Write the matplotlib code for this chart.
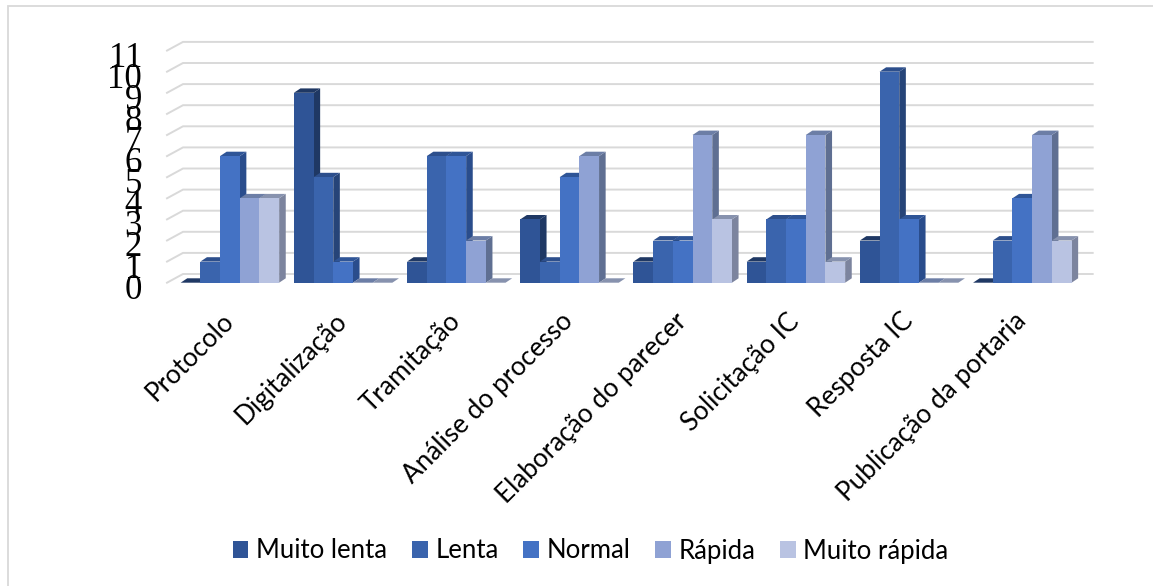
import matplotlib
matplotlib.use("Agg")
import matplotlib.pyplot as plt
from matplotlib.lines import Line2D
from matplotlib.patches import Patch, Polygon
from matplotlib.transforms import ScaledTranslation

# Survey answers per process stage
categories = ["Protocolo", "Digitalização", "Tramitação", "Análise do processo",
              "Elaboração do parecer", "Solicitação IC", "Resposta IC",
              "Publicação da portaria"]
series_names = ["Muito lenta", "Lenta", "Normal", "Rápida", "Muito rápida"]
muito_lenta = [0, 9, 1, 3, 1, 1, 2, 0]
lenta = [1, 5, 6, 1, 2, 3, 10, 2]
normal = [6, 1, 6, 5, 2, 3, 3, 4]
rapida = [4, 0, 2, 6, 7, 7, 0, 7]
muito_rapida = [4, 0, 0, 0, 3, 1, 0, 2]
y_ticks = list(range(12))

front_colors = ["#2F5496", "#3A64AD", "#4472C4", "#8FA2D4", "#B9C3E2"]
side_colors = ["#1F3864", "#264478", "#2A4D8C", "#5F6F92", "#7C849E"]
top_colors = ["#1F3864", "#2D4F8C", "#2F5597", "#6C7EA6", "#8792AE"]
grid_color = "#D9D9D9"

W, H = 1153, 586
fig = plt.figure(figsize=(W / 100, H / 100), dpi=100, facecolor="white")

# Plot box in pixels; the 3D look comes from sheared faces on flat axes
px_left, px_right, px_base, px_top = 167.0, 1092.7, 282.7, 41.7
ax = fig.add_axes([px_left / W, 1 - px_base / H,
                   (px_right - px_left) / W, (px_base - px_top) / H])
px_per_unit = 21.1
px_per_group = 113.2
center0 = 229.9
ax.set_xlim((px_left - center0) / px_per_group, (px_right - center0) / px_per_group)
ax.set_ylim(0, (px_base - px_top) / px_per_unit)
for s in ax.spines.values():
    s.set_visible(False)
ax.patch.set_visible(False)

bar_w = 19.7 / px_per_group
bar_dx = 6.6 / px_per_group
bar_dy = 4.4 / px_per_unit
wall_dx = 16.0 / px_per_group
wall_dy = 8.7 / px_per_unit
x0, x1 = ax.get_xlim()

# Floor-to-wall grid lines
for v in y_ticks:
    ax.add_line(Line2D([x0, x0 + wall_dx, x1], [v, v + wall_dy, v + wall_dy],
                       color=grid_color, lw=1.4, zorder=1, clip_on=False,
                       solid_joinstyle="miter"))

all_series = [muito_lenta, lenta, normal, rapida, muito_rapida]
for si, values in enumerate(all_series):
    for gi, v in enumerate(values):
        left = gi + (si - 2.5) * bar_w
        right = left + bar_w
        z = 3 + si
        # right side face
        if v > 0:
            ax.add_patch(Polygon([(right, 0), (right + bar_dx, bar_dy),
                                  (right + bar_dx, v + bar_dy), (right, v)],
                                 facecolor=side_colors[si], edgecolor="none", zorder=z))
        # top face
        ax.add_patch(Polygon([(left, v), (left + bar_dx, v + bar_dy),
                              (right + bar_dx, v + bar_dy), (right, v)],
                             facecolor=top_colors[si], edgecolor="none", zorder=z))
        # front face
        if v > 0:
            ax.bar(left + bar_w / 2, v, width=bar_w, color=front_colors[si],
                   linewidth=0, zorder=z + 0.5)

ax.set_yticks(y_ticks)
ax.set_yticklabels([str(t) for t in y_ticks], family="Liberation Serif", fontsize=25,
                   color="#000000")
ax.set_xticks(range(len(categories)))
ax.set_xticklabels(categories, rotation=45, ha="right", va="center", rotation_mode="anchor",
                   family="Lato", fontsize=18.8, color="#000000")
ax.tick_params(axis="both", length=0)
ax.tick_params(axis="y", pad=18)
ax.tick_params(axis="x", pad=25)

# Value labels sit slightly below their grid level
shift_down = ScaledTranslation(0, -2.5 / 72, fig.dpi_scale_trans)
for lbl in ax.get_yticklabels():
    lbl.set_transform(lbl.get_transform() + shift_down)

handles = [Patch(facecolor=c, edgecolor="none") for c in front_colors]
fig.legend(handles, series_names, ncol=5, frameon=False, loc="center",
           bbox_to_anchor=(590.5 / W, 1 - 551 / H), prop={"family": "Lato", "size": 18.5},
           handlelength=0.62, handleheight=0.62, handletextpad=0.30, columnspacing=0.95,
           labelcolor="#000000", borderpad=0, borderaxespad=0)

# Outer frame: only the top and left edges are visible
fig.add_artist(Line2D([8 / W, 8 / W, 1], [0, 1 - 6 / H, 1 - 6 / H],
                      color=grid_color, lw=1.3, transform=fig.transFigure,
                      solid_joinstyle="miter"))

fig.savefig("out.png", dpi=100)
